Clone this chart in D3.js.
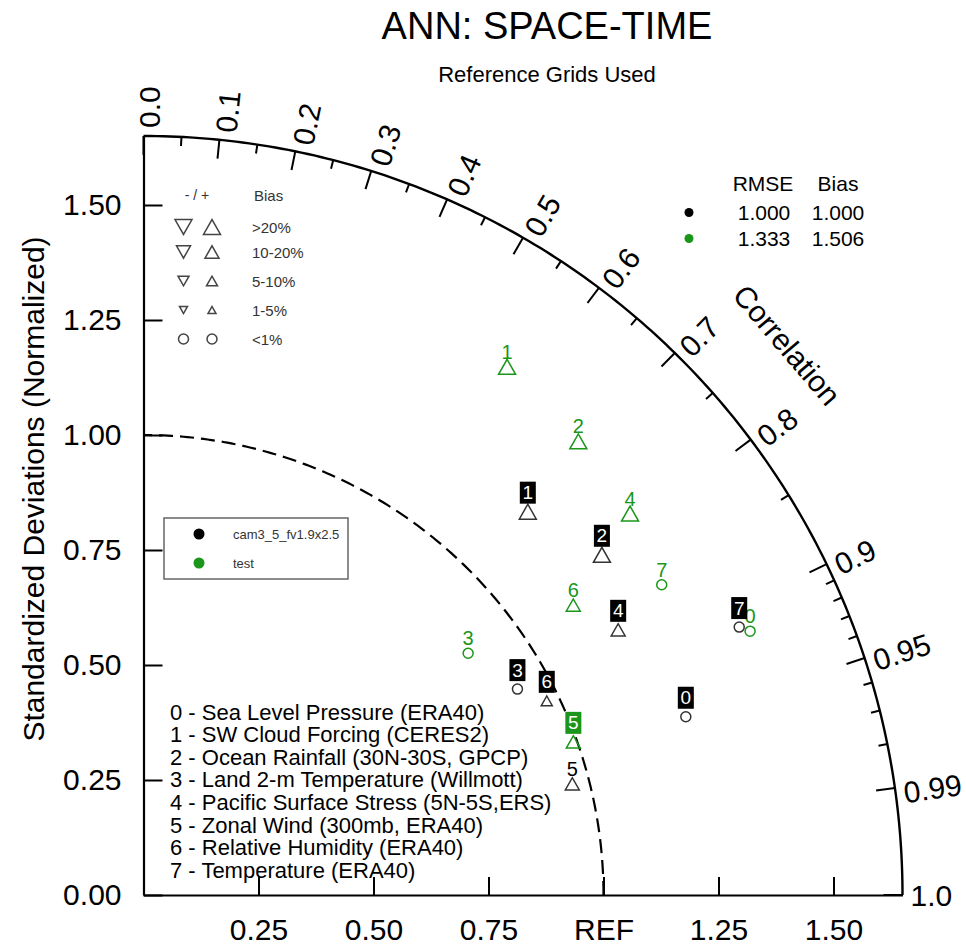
<!DOCTYPE html>
<html><head><meta charset="utf-8">
<script src="https://cdn.jsdelivr.net/npm/d3@7"></script>
<style>
body{margin:0;background:#fff}
svg{display:block}
text{font-family:"Liberation Sans",Arial,Helvetica,sans-serif}
</style>
</head><body>
<svg id="chart" width="966" height="945"></svg>
<script>
// ---------------- data ----------------
const title = "ANN: SPACE-TIME";
const subtitle = "Reference Grids Used";
const caseNames = ["cam3_5_fv1.9x2.5", "test"];
const caseColors = ["#000000", "#1a961a"];
const varNames = [
  "Sea Level Pressure (ERA40)",
  "SW Cloud Forcing (CERES2)",
  "Ocean Rainfall (30N-30S, GPCP)",
  "Land 2-m Temperature (Willmott)",
  "Pacific Surface Stress (5N-5S,ERS)",
  "Zonal Wind (300mb, ERA40)",
  "Relative Humidity (ERA40)",
  "Temperature (ERA40)"
];
// normalized standard deviation and correlation, per variable 0..7
const ratioCase0 = [1.241, 1.180, 1.241, 0.928, 1.182, 0.963, 0.973, 1.420];
const ccCase0    = [0.950, 0.708, 0.803, 0.876, 0.873, 0.968, 0.901, 0.912];
const ratioCase1 = [1.438, 1.394, 1.366, 0.880, 1.344, 0.992, 1.127, 1.313];
const ccCase1    = [0.917, 0.567, 0.692, 0.802, 0.787, 0.942, 0.829, 0.858];
// bias class (all positive -> up triangles, <1% -> circle)
const biasCase0 = ["<1%", ">20%", ">20%", "<1%", "10-20%", "10-20%", "5-10%", "<1%"];
const biasCase1 = ["<1%", ">20%", ">20%", "<1%", ">20%", "10-20%", "10-20%", "<1%"];
// label drawn in a filled box?
const boxedCase0 = [true, true, true, true, true, false, true, true];
const boxedCase1 = [false, false, false, false, false, true, false, false];
const rmseValues = ["1.000", "1.333"];
const biasValues = ["1.000", "1.506"];
const stdTicks = [0, 0.25, 0.5, 0.75, 1.0, 1.25, 1.5];
const stdTickLabels = ["0.00", "0.25", "0.50", "0.75", "1.00", "1.25", "1.50"];
const xTicks = [0.25, 0.5, 0.75, 1.0, 1.25, 1.5];
const xTickLabels = ["0.25", "0.50", "0.75", "REF", "1.25", "1.50"];
const corrMajor = [0.0, 0.1, 0.2, 0.3, 0.4, 0.5, 0.6, 0.7, 0.8, 0.9, 0.95, 0.99, 1.0];
const corrLabels = ["0.0", "0.1", "0.2", "0.3", "0.4", "0.5", "0.6", "0.7", "0.8", "0.9", "0.95", "0.99", "1.0"];
const corrMinor = [0.05, 0.15, 0.25, 0.35, 0.45, 0.55, 0.65, 0.75, 0.85, 0.91, 0.92, 0.93, 0.94, 0.96, 0.97, 0.98];
const biasClasses = [">20%", "10-20%", "5-10%", "1-5%", "<1%"];
const biasClassSize = [17, 14, 11, 8, 0];
const maxStd = 1.65;

// ---------------- drawing ----------------
const svg = d3.select("#chart");
const FONT = '"Liberation Sans",Arial,Helvetica,sans-serif';
const x = d3.scaleLinear().domain([0, maxStd]).range([143.5, 902.5]);
const y = d3.scaleLinear().domain([0, maxStd]).range([895, 136]);
const ox = x(0), oy = y(0);
const Rpx = x(maxStd) - x(0);
const toXY = (r, c) => { const th = Math.acos(c); return [x(r * Math.cos(th)), y(r * Math.sin(th))]; };
const polarPx = (rpx, c) => { const th = Math.acos(c); return [ox + rpx * Math.cos(th), oy - rpx * Math.sin(th)]; };
const lineGen = d3.line();

// title
svg.append("text").attr("x", 547).attr("y", 39).attr("text-anchor", "middle")
  .attr("font-size", 38).text(title);
svg.append("text").attr("x", 547).attr("y", 82).attr("text-anchor", "middle")
  .attr("font-size", 22).text(subtitle);

// REF dashed arc (std = 1)
const angs = d3.range(0, 90.001, 0.5).map(a => a * Math.PI / 180);
svg.append("path")
  .attr("d", lineGen(angs.map(a => [x(Math.cos(a)), y(Math.sin(a))])))
  .attr("fill", "none").attr("stroke", "#000").attr("stroke-width", 2.2)
  .attr("stroke-dasharray", "14,7");

// axes
const xAxis = d3.axisBottom(x).tickValues(xTicks).tickFormat((d, i) => xTickLabels[i])
  .tickSizeInner(-18).tickSizeOuter(0).tickPadding(24);
const gx = svg.append("g").attr("transform", `translate(0,${oy})`).call(xAxis);
const yAxis = d3.axisLeft(y).tickValues(stdTicks).tickFormat((d, i) => stdTickLabels[i])
  .tickSizeInner(-19).tickSizeOuter(0).tickPadding(22);
const gy = svg.append("g").attr("transform", `translate(${ox},0)`).call(yAxis);
[gx, gy].forEach(g => {
  g.attr("font-family", FONT).attr("font-size", 30);
  g.selectAll("path.domain").attr("stroke", "#000").attr("stroke-width", 2.2);
  g.selectAll(".tick line").attr("stroke", "#000").attr("stroke-width", 2);
  g.selectAll(".tick text").attr("fill", "#000");
});

// y axis title
svg.append("text").attr("transform", "translate(44,489) rotate(-90)")
  .attr("text-anchor", "middle").attr("font-size", 30).text("Standardized Deviations (Normalized)");

// outer correlation arc
svg.append("path")
  .attr("d", lineGen(angs.map(a => [x(maxStd * Math.cos(a)), y(maxStd * Math.sin(a))])))
  .attr("fill", "none").attr("stroke", "#000").attr("stroke-width", 2.4);

// correlation ticks
const tickG = svg.append("g").attr("stroke", "#000").attr("stroke-width", 2);
corrMajor.forEach(c => {
  tickG.append("path").attr("d", lineGen([polarPx(Rpx, c), polarPx(Rpx - 19, c)]));
});
corrMinor.forEach(c => {
  tickG.append("path").attr("d", lineGen([polarPx(Rpx, c), polarPx(Rpx - 9, c)]));
});
// correlation labels
corrMajor.forEach((c, i) => {
  const p = polarPx(Rpx + 8, c);
  const deg = Math.acos(c) * 180 / Math.PI;
  svg.append("text")
    .attr("transform", `translate(${p[0]},${p[1]}) rotate(${-deg})`)
    .attr("text-anchor", "start").attr("dominant-baseline", "central")
    .attr("dy", c === 1 ? 0 : 6)
    .attr("font-size", 30).text(corrLabels[i]);
});
svg.append("text").attr("transform", "translate(787,345) rotate(49.5)")
  .attr("text-anchor", "middle").attr("dominant-baseline", "central")
  .attr("font-size", 30).text("Correlation");

// marker helpers
function triPath(cx, cy, w, up) {
  const h = w * 0.88;
  const pts = up
    ? [[cx - w / 2, cy + h / 2], [cx + w / 2, cy + h / 2], [cx, cy - h / 2]]
    : [[cx - w / 2, cy - h / 2], [cx + w / 2, cy - h / 2], [cx, cy + h / 2]];
  return lineGen(pts) + "Z";
}
function drawMarker(g, cx, cy, cls, up, color) {
  const k = biasClasses.indexOf(cls);
  if (biasClassSize[k] === 0) {
    g.append("circle").attr("cx", cx).attr("cy", cy).attr("r", 5)
      .attr("fill", "none").attr("stroke", color).attr("stroke-width", 1.5);
  } else {
    g.append("path").attr("d", triPath(cx, cy, biasClassSize[k], up))
      .attr("fill", "none").attr("stroke", color).attr("stroke-width", 1.5);
  }
}

// bias legend (top-left)
const bl = svg.append("g");
bl.append("text").attr("x", 197).attr("y", 195).attr("text-anchor", "middle")
  .attr("dominant-baseline", "central").attr("font-size", 14).attr("fill", "#333").text("- / +");
bl.append("text").attr("x", 254).attr("y", 195).attr("dominant-baseline", "central")
  .attr("font-size", 15).attr("fill", "#333").text("Bias");
const blRows = [227, 252, 281, 310, 339];
biasClasses.forEach((cls, i) => {
  drawMarker(bl, 183.5, blRows[i], cls, false, "#444");
  drawMarker(bl, 212, blRows[i], cls, true, "#444");
  bl.append("text").attr("x", 252).attr("y", blRows[i]).attr("dominant-baseline", "central")
    .attr("font-size", 15).attr("fill", "#333").text(cls);
});

// RMSE / Bias table
const tb = svg.append("g").attr("font-size", 21);
tb.append("text").attr("x", 763).attr("y", 183).attr("text-anchor", "middle")
  .attr("dominant-baseline", "central").text("RMSE");
tb.append("text").attr("x", 838).attr("y", 183).attr("text-anchor", "middle")
  .attr("dominant-baseline", "central").text("Bias");
const tbRows = [212.5, 238.5];
caseNames.forEach((n, i) => {
  tb.append("circle").attr("cx", 689).attr("cy", tbRows[i]).attr("r", 4.5).attr("fill", caseColors[i]);
  tb.append("text").attr("x", 764).attr("y", tbRows[i]).attr("text-anchor", "middle")
    .attr("dominant-baseline", "central").text(rmseValues[i]);
  tb.append("text").attr("x", 838).attr("y", tbRows[i]).attr("text-anchor", "middle")
    .attr("dominant-baseline", "central").text(biasValues[i]);
});

// case legend box
const lg = svg.append("g");
lg.append("rect").attr("x", 164).attr("y", 518).attr("width", 184).attr("height", 61)
  .attr("fill", "#fff").attr("stroke", "#666").attr("stroke-width", 1.5);
const lgRows = [534, 563];
caseNames.forEach((n, i) => {
  lg.append("circle").attr("cx", 199).attr("cy", lgRows[i]).attr("r", 5.5).attr("fill", caseColors[i]);
  lg.append("text").attr("x", 233).attr("y", lgRows[i]).attr("dominant-baseline", "central")
    .attr("font-size", 13).attr("fill", "#333").text(n);
});

// variable list
const vl = svg.append("g").attr("font-size", 22);
varNames.forEach((v, i) => {
  vl.append("text").attr("x", 170).attr("y", 712 + i * 22.6).attr("dominant-baseline", "central")
    .text(i + " - " + v);
});

// data markers + labels
function drawCase(ratios, ccs, biases, boxed, color) {
  const g = svg.append("g");
  ratios.forEach((r, i) => {
    const [px, py] = toXY(r, ccs[i]);
    drawMarker(g, px, py, biases[i], true, color === "#000000" ? "#333" : color);
    if (boxed[i]) {
      g.append("rect").attr("x", px - 8).attr("y", py - 19 - 11).attr("width", 16).attr("height", 22)
        .attr("fill", color);
      g.append("text").attr("x", px).attr("y", py - 19).attr("text-anchor", "middle")
        .attr("dominant-baseline", "central").attr("font-size", 19).attr("fill", "#fff").text(i);
    } else {
      g.append("text").attr("x", px).attr("y", py - 15).attr("text-anchor", "middle")
        .attr("dominant-baseline", "central").attr("font-size", 20).attr("fill", color).text(i);
    }
  });
}
drawCase(ratioCase1, ccCase1, biasCase1, boxedCase1, caseColors[1]);
drawCase(ratioCase0, ccCase0, biasCase0, boxedCase0, caseColors[0]);
</script>
</body></html>
